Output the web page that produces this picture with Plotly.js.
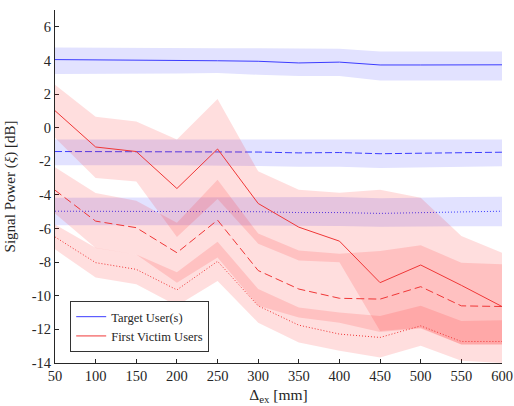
<!DOCTYPE html>
<html>
<head>
<meta charset="utf-8">
<script src="https://cdn.plot.ly/plotly-3.0.1.min.js"></script>
<style>html,body{margin:0;padding:0;background:#fff;}#chart{width:514px;height:406px;}</style>
</head>
<body>
<div id="chart"></div>
<script>
var deltaEx = [50,100,150,200,250,300,350,400,450,500,550,600];

var targetSolid   = [4.05,4.04,4.02,4.00,3.98,3.95,3.85,3.90,3.73,3.73,3.73,3.74];
var targetSolidUp = [4.77,4.75,4.74,4.73,4.72,4.72,4.72,4.70,4.53,4.53,4.53,4.53];
var targetSolidLo = [3.20,3.20,3.22,3.22,3.25,3.15,3.08,3.08,2.80,2.80,2.80,2.80];

var targetDash   = [-1.42,-1.43,-1.44,-1.42,-1.42,-1.45,-1.50,-1.48,-1.55,-1.52,-1.50,-1.46];
var targetDashUp = [-0.71,-0.71,-0.71,-0.71,-0.71,-0.71,-0.71,-0.71,-0.71,-0.71,-0.71,-0.71];
var targetDashLo = [-2.24,-2.24,-2.24,-2.24,-2.24,-2.28,-2.33,-2.33,-2.40,-2.38,-2.33,-2.29];

var targetDot   = [-4.97,-4.97,-4.97,-4.98,-4.98,-5.00,-5.05,-5.05,-5.10,-5.05,-5.00,-4.97];
var targetDotUp = [-4.17,-4.17,-4.17,-4.17,-4.15,-4.15,-4.15,-4.13,-4.20,-4.15,-4.12,-4.11];
var targetDotLo = [-5.80,-5.80,-5.80,-5.80,-5.80,-5.82,-5.85,-5.85,-5.90,-5.88,-5.86,-5.86];

var victimSolid   = [1.01,-1.15,-1.42,-3.62,-1.27,-4.51,-5.92,-6.75,-9.22,-8.17,-9.38,-10.64];
var victimSolidUp = [2.55,0.65,0.36,-0.70,1.70,-2.60,-3.70,-3.87,-3.70,-4.17,-6.45,-7.44];
var victimSolidLo = [-0.60,-3.00,-3.20,-6.50,-4.24,-6.90,-7.90,-8.00,-12.10,-11.90,-12.90,-12.90];

var victimDash   = [-3.72,-5.56,-5.95,-7.44,-5.50,-8.50,-9.60,-10.15,-10.20,-9.46,-10.60,-10.64];
var victimDashUp = [-2.35,-3.88,-4.35,-5.66,-3.10,-6.30,-7.30,-7.50,-7.34,-7.00,-8.03,-8.13];
var victimDashLo = [-5.10,-7.16,-7.55,-9.22,-7.73,-10.60,-11.30,-11.60,-12.15,-11.95,-12.90,-12.90];

var victimDot   = [-6.50,-8.03,-8.43,-9.65,-7.95,-10.60,-11.75,-12.28,-12.48,-11.79,-12.72,-12.72];
var victimDotUp = [-5.76,-7.14,-7.54,-8.60,-6.78,-9.60,-10.70,-11.00,-11.20,-10.60,-11.50,-11.45];
var victimDotLo = [-7.24,-8.92,-9.32,-10.60,-9.12,-11.60,-12.78,-13.27,-13.67,-12.97,-13.87,-14.00];

var xTicks = [50,100,150,200,250,300,350,400,450,500,550,600];
var yTicks = [-14,-12,-10,-8,-6,-4,-2,0,2,4,6];

var BLUE = 'rgb(60,60,255)';
var RED = 'rgb(240,55,55)';
var BLUE_FILL = 'rgb(226,226,255)';
var RED_FILL = 'rgba(255,0,0,0.13)';

function band(up, lo, color) {
  return {
    x: deltaEx.concat(deltaEx.slice().reverse()),
    y: up.concat(lo.slice().reverse()),
    type: 'scatter', mode: 'lines', fill: 'toself',
    fillcolor: color, line: {width: 0, color: 'rgba(0,0,0,0)'},
    hoverinfo: 'skip', showlegend: false
  };
}
function line(y, color, dash, name, show) {
  return {
    x: deltaEx, y: y, type: 'scatter', mode: 'lines',
    line: {color: color, width: 1, dash: dash},
    name: name, showlegend: show
  };
}

var traces = [
  band(targetSolidUp, targetSolidLo, BLUE_FILL),
  band(targetDashUp, targetDashLo, BLUE_FILL),
  band(targetDotUp, targetDotLo, BLUE_FILL),
  line(targetSolid, BLUE, 'solid', 'Target User(s)', true),
  line(targetDash, BLUE, '7px,3px', 'Target dashed', false),
  line(targetDot, BLUE, '1px,2px', 'Target dotted', false),
  band(victimSolidUp, victimSolidLo, RED_FILL),
  band(victimDashUp, victimDashLo, RED_FILL),
  band(victimDotUp, victimDotLo, RED_FILL),
  line(victimSolid, RED, 'solid', 'First Victim Users', true),
  line(victimDash, RED, '8px,4px', 'Victim dashed', false),
  line(victimDot, RED, '1px,2px', 'Victim dotted', false)
];

var FONT = 'Liberation Serif';
var layout = {
  width: 514, height: 406,
  margin: {l: 55, r: 12, t: 10, b: 43},
  paper_bgcolor: '#fff', plot_bgcolor: '#fff',
  font: {family: FONT, size: 14.5, color: '#262626'},
  showlegend: true,
  legend: {
    x: 0.034, y: 0.031, xanchor: 'left', yanchor: 'bottom',
    bgcolor: '#fff', bordercolor: '#333', borderwidth: 1,
    font: {family: FONT, size: 12.5, color: '#262626'},
    tracegroupgap: 0
  },
  xaxis: {
    range: [50, 600], tickvals: xTicks, ticktext: xTicks.map(String),
    ticks: 'inside', ticklen: 4, tickcolor: '#262626',
    tickfont: {family: FONT, size: 14.5, color: '#262626'},
    showline: true, linecolor: '#262626', linewidth: 1,
    showgrid: false, zeroline: false, layer: 'below traces',
    title: {text: 'Δ<sub>ex</sub> [mm]', font: {family: FONT, size: 15.5, color: '#262626'}, standoff: 5}
  },
  yaxis: {
    range: [-14, 7], tickvals: yTicks, ticktext: yTicks.map(String),
    ticks: 'inside', ticklen: 4, tickcolor: '#262626',
    tickfont: {family: FONT, size: 14.5, color: '#262626'},
    showline: true, linecolor: '#262626', linewidth: 1,
    showgrid: false, zeroline: false, layer: 'below traces',
    title: {text: 'Signal Power (<i>ξ</i>) [dB]', font: {family: FONT, size: 15, color: '#262626'}, standoff: 12}
  }
};

Plotly.newPlot('chart', traces, layout, {displayModeBar: false, staticPlot: true});
</script>
</body>
</html>
